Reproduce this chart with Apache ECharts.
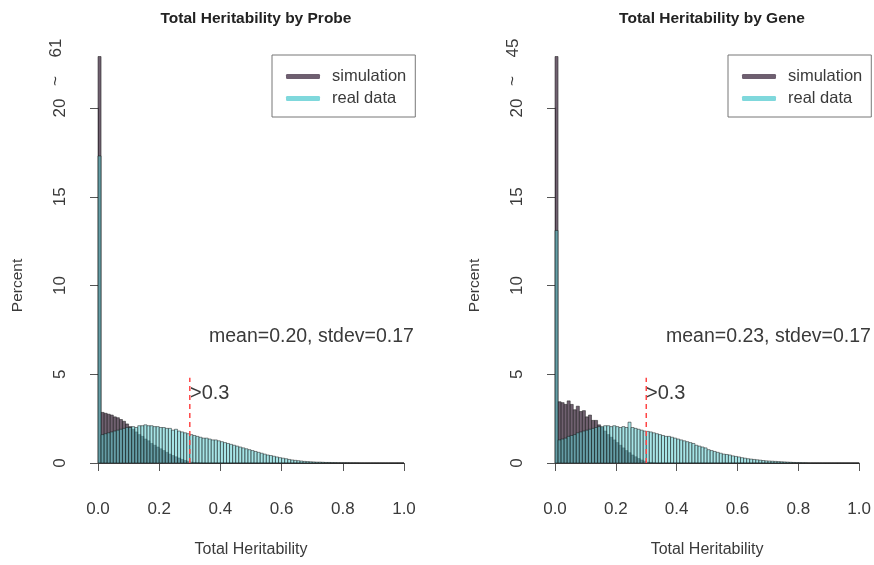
<!DOCTYPE html>
<html>
<head>
<meta charset="utf-8">
<script src="https://cdn.jsdelivr.net/npm/echarts@6/dist/echarts.min.js"></script>
<style>
html,body{margin:0;padding:0;background:#fff;}
#main{width:874px;height:565px;}
</style>
</head>
<body>
<div id="main"></div>
<script>
// ---- data (percent per 0.01-wide bin, from 0.00 to 1.00) ----
const titles = ['Total Heritability by Probe', 'Total Heritability by Gene'];
const seriesNames = ['simulation', 'real data'];
const xTicks = [0, 0.2, 0.4, 0.6, 0.8, 1.0];
const yTicks = [0, 5, 10, 15, 20];
const statTexts = ['mean=0.20, stdev=0.17', 'mean=0.23, stdev=0.17'];
const cutoff = 0.3;
const cutoffTop = 4.8;
const clipAt = 22.9;          // displayed height of truncated first bar
const simFirstLabel = ['61', '45'];

const simProbe = [61,
  2.85,2.8,2.75,2.7,2.6,2.55,2.45,2.35,2.2,2.05,
  1.9,1.75,1.6,1.5,1.35,1.25,1.1,1.0,0.9,0.8,
  0.7,0.6,0.5,0.42,0.35,0.28,0.2,0.14,0.09,0.05,
  0.03,0.02,0.01,0,0,0,0,0,0,0,
  0,0,0,0,0,0,0,0,0,0,
  0,0,0,0,0,0,0,0,0,0,
  0,0,0,0,0,0,0,0,0,0,
  0,0,0,0,0,0,0,0,0,0,
  0,0,0,0,0,0,0,0,0,0,
  0,0,0,0,0,0,0,0,0];

const realProbe = [17.3,
  1.6,1.65,1.7,1.75,1.8,1.85,1.9,1.95,2.0,2.0,
  2.05,2.0,2.1,2.1,2.15,2.1,2.1,2.05,2.05,2.0,
  2.0,1.95,1.95,1.85,1.9,1.8,1.75,1.7,1.65,1.6,
  1.55,1.5,1.45,1.4,1.4,1.35,1.3,1.3,1.25,1.2,
  1.15,1.1,1.05,1.0,0.95,0.9,0.85,0.8,0.75,0.7,
  0.65,0.6,0.55,0.5,0.45,0.42,0.38,0.34,0.3,0.27,
  0.24,0.2,0.17,0.15,0.13,0.11,0.09,0.08,0.07,0.06,
  0.05,0.05,0.04,0.03,0.03,0.02,0.02,0.01,0.01,0.01,
  0.01,0.005,0.005,0.005,0,0,0,0,0,0,
  0,0,0,0,0,0,0,0,0];

const simGene = [45,
  3.45,3.4,3.3,3.5,3.3,3.0,3.2,2.9,2.95,2.6,
  2.7,2.4,2.4,2.15,2.0,1.8,1.6,1.45,1.3,1.15,
  1.0,0.85,0.7,0.58,0.45,0.35,0.25,0.17,0.1,0.05,
  0.03,0.01,0,0,0,0,0,0,0,0,
  0,0,0,0,0,0,0,0,0,0,
  0,0,0,0,0,0,0,0,0,0,
  0,0,0,0,0,0,0,0,0,0,
  0,0,0,0,0,0,0,0,0,0,
  0,0,0,0,0,0,0,0,0,0,
  0,0,0,0,0,0,0,0,0];

const realGene = [13.1,
  1.3,1.35,1.4,1.5,1.55,1.6,1.7,1.75,1.8,1.85,
  1.9,1.95,2.0,2.05,2.05,2.1,2.1,2.05,2.1,2.05,
  2.0,2.05,2.0,2.3,2.0,1.95,1.9,1.85,1.8,1.78,
  1.75,1.7,1.65,1.6,1.55,1.5,1.5,1.45,1.4,1.35,
  1.3,1.25,1.2,1.15,1.1,1.0,0.95,0.9,0.85,0.75,
  0.7,0.65,0.6,0.55,0.5,0.48,0.45,0.4,0.37,0.34,
  0.3,0.27,0.24,0.22,0.2,0.18,0.16,0.14,0.12,0.11,
  0.1,0.09,0.08,0.07,0.06,0.05,0.04,0.03,0.02,0.02,
  0.01,0.01,0,0,0,0,0,0,0,0,
  0,0,0,0,0,0,0,0,0];

// ---- build ----
const binWidth = 0.01;
function toBins(arr){
  return arr.map((v,i)=>[i*binWidth, (i+1)*binWidth, Math.min(v, clipAt)]);
}
const SIM_FILL = 'rgba(72,52,72,0.78)';
const REAL_FILL = 'rgba(95,208,212,0.55)';
const SIM_LEG = '#6e5f70';
const REAL_LEG = '#7fd8dc';
const STROKE = 'rgba(25,25,25,0.72)';

function histSeries(name, arr, idx, fill){
  return {
    type:'custom', name:name, xAxisIndex:idx, yAxisIndex:idx, clip:false,
    data: toBins(arr),
    itemStyle:{color: name==='simulation'?SIM_LEG:REAL_LEG},
    renderItem: function(params, api){
      const p0 = api.coord([api.value(0), 0]);
      const p1 = api.coord([api.value(1), api.value(2)]);
      return {type:'rect',
        shape:{x:p0[0], y:p1[1], width:p1[0]-p0[0], height:p0[1]-p1[1]},
        style:{fill:fill, stroke:STROKE, lineWidth:0.7}};
    }
  };
}
function cutLine(idx){
  return {type:'line', xAxisIndex:idx, yAxisIndex:idx, silent:true, showSymbol:false,
    data:[[cutoff,0],[cutoff,cutoffTop]], z:5,
    lineStyle:{color:'#ff4646', width:1.5, type:[5,4]}};
}

const FONT = '"Liberation Sans", Arial, Helvetica, sans-serif';
const TXT = '#3a3a3a';
const grids = [
  {left:98, top:108, width:306, height:355},
  {left:555, top:108, width:305, height:355}
];
function xAxis(i){
  return {type:'value', gridIndex:i, min:0, max:1, interval:0.2, offset:17,
    axisLine:{show:true, lineStyle:{color:'#555', width:1}},
    axisTick:{show:true, length:8, lineStyle:{color:'#555'}},
    axisLabel:{fontSize:17, color:TXT, margin:21, fontFamily:FONT, formatter:v=>v.toFixed(1)},
    splitLine:{show:false},
    name:'Total Heritability', nameLocation:'middle', nameGap:62,
    nameTextStyle:{fontSize:16, color:TXT, fontFamily:FONT}};
}
function yAxis(i){
  return {type:'value', gridIndex:i, min:0, max:20, interval:5, offset:13,
    axisLine:{show:true, lineStyle:{color:'#555', width:1}},
    axisTick:{show:true, length:8, lineStyle:{color:'#555'}},
    axisLabel:{fontSize:17, color:TXT, margin:16, rotate:90, fontFamily:FONT},
    splitLine:{show:false},
    name:'Percent', nameLocation:'middle', nameGap:59, nameRotate:90,
    nameTextStyle:{fontSize:15.5, color:TXT, fontFamily:FONT}};
}
function legend(left){
  return {left:left, top:55, orient:'vertical', icon:'roundRect',
    itemWidth:34, itemHeight:5, itemGap:5,
    borderColor:'#777', borderWidth:1, padding:[13,9,10,14], borderRadius:0,
    data:[{name:'simulation', itemStyle:{color:SIM_LEG}}, {name:'real data', itemStyle:{color:REAL_LEG}}],
    textStyle:{fontSize:16.5, color:TXT, fontFamily:FONT, padding:[0,0,0,7]}};
}
function txt(x,y,s,size,extra){
  return Object.assign({type:'text', x:x, y:y, silent:true,
    style:{text:s, fontSize:size, fill:TXT, fontFamily:FONT, textVerticalAlign:'middle', textAlign:'left'}}, extra||{});
}
function rtxt(x,y,s){
  return {type:'text', x:x, y:y, rotation:Math.PI/2, silent:true,
    style:{text:s, fontSize:17, fill:TXT, fontFamily:FONT, textAlign:'center', textVerticalAlign:'middle'}};
}

const option = {
  animation:false,
  backgroundColor:'#fff',
  title: titles.map((t,i)=>({text:t, left:i===0?251:707, top:6, textAlign:'center',
    textStyle:{fontSize:15.5, fontWeight:'bold', color:'#222', fontFamily:FONT}})),
  grid: grids,
  xAxis:[xAxis(0), xAxis(1)],
  yAxis:[yAxis(0), yAxis(1)],
  legend:[legend(272), legend(728)],
  series:[
    histSeries('simulation', simProbe, 0, SIM_FILL),
    histSeries('real data', realProbe, 0, REAL_FILL),
    cutLine(0),
    histSeries('simulation', simGene, 1, SIM_FILL),
    histSeries('real data', realGene, 1, REAL_FILL),
    cutLine(1)
  ],
  graphic:[
    txt(209, 337, statTexts[0], 19.5),
    txt(666, 337, statTexts[1], 19.5),
    txt(190, 393, '>0.3', 20),
    txt(646, 393, '>0.3', 20),
    rtxt(56, 81, '~'),
    rtxt(56, 48, simFirstLabel[0]),
    rtxt(513, 81, '~'),
    rtxt(513, 48, simFirstLabel[1])
  ]
};
const chart = echarts.init(document.getElementById('main'), null, {renderer:'canvas'});
chart.setOption(option);
</script>
</body>
</html>
